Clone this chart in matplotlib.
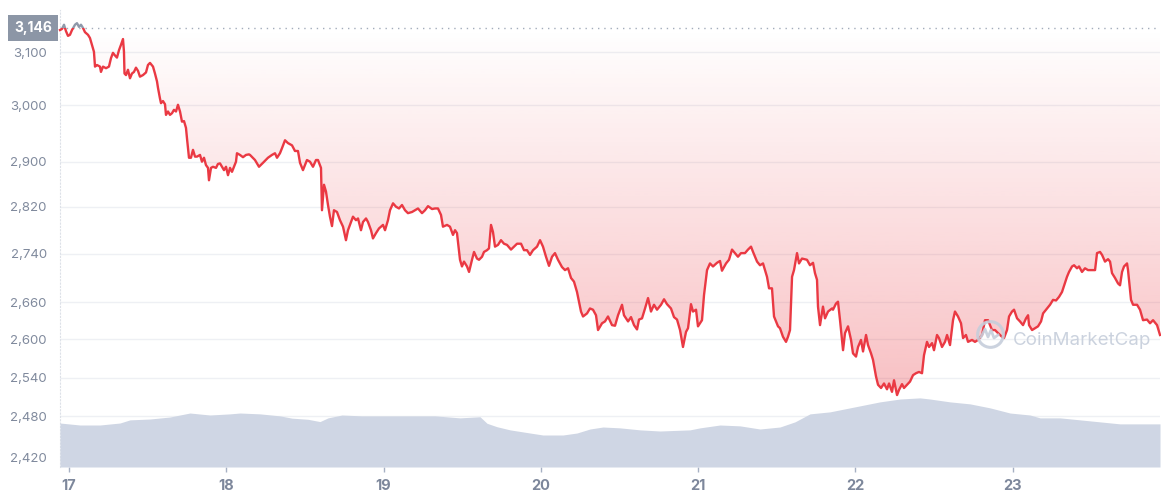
import numpy as np
import matplotlib
matplotlib.use("Agg")
import matplotlib.pyplot as plt
from matplotlib import transforms
from matplotlib.patches import Rectangle
from matplotlib.path import Path

plt.rcParams['font.family'] = ['Inter', 'DejaVu Sans']

# ---------------- data ----------------
# hours since Nov 17 00:00
hours = [-1.37, -1.07, -0.76, -0.46, -0.15, 0.15, 0.46, 0.92, 1.22, 1.53, 1.83, 2.14, 2.44,
         2.90, 3.20, 3.51, 3.81, 3.97, 4.27, 4.73, 4.88, 5.19, 5.65, 6.10, 6.41, 6.71, 7.02,
         7.32, 7.63, 7.93, 8.24, 8.39, 8.47, 8.70, 9.00, 9.31, 9.61, 9.92, 10.22, 10.53, 10.83,
         11.29, 11.75, 12.05, 12.36, 12.82, 13.12, 13.43, 13.58, 13.88, 14.04, 14.34, 14.65,
         14.80, 15.11, 15.41, 15.72, 16.02, 16.33, 16.63, 16.94, 17.24, 17.55, 17.85, 18.00,
         18.31, 18.61, 18.92, 19.23, 19.53, 19.99, 20.29, 20.60, 20.90, 21.21, 21.36, 21.67,
         21.97, 22.43, 22.73, 23.04, 23.34, 23.65, 23.96, 24.26, 24.57, 24.87, 25.18, 25.48,
         25.63, 26.09, 26.55, 27.01, 27.46, 27.62, 28.38, 28.99, 29.60, 30.36, 30.97, 31.43,
         31.74, 32.19, 32.50, 32.96, 33.41, 34.03, 34.48, 34.94, 35.25, 35.70, 36.31, 36.77,
         37.23, 37.69, 37.99, 38.45, 38.60, 38.91, 39.21, 39.52, 39.82, 40.13, 40.43, 40.89,
         41.35, 41.81, 42.26, 42.57, 43.03, 43.33, 43.79, 44.10, 44.55, 44.86, 45.32, 45.62,
         46.08, 46.38, 46.84, 47.30, 47.91, 48.22, 48.67, 48.98, 49.44, 49.89, 50.35, 50.81,
         51.27, 51.72, 52.34, 52.79, 53.25, 53.86, 54.32, 54.78, 55.39, 55.84, 56.30, 56.76,
         57.06, 57.68, 58.13, 58.59, 58.90, 59.20, 59.66, 59.96, 60.27, 60.73, 61.04, 61.49,
         61.80, 62.25, 62.56, 63.02, 63.32, 63.78, 64.08, 64.39, 64.69, 65.00, 65.46, 65.91,
         66.37, 66.83, 67.44, 67.90, 68.36, 68.97, 69.42, 69.88, 70.34, 70.80, 71.41, 71.87,
         72.32, 72.78, 73.24, 73.70, 74.15, 74.61, 75.22, 75.68, 76.14, 76.60, 77.05, 77.51,
         78.12, 78.43, 79.04, 79.49, 79.95, 80.41, 80.72, 81.33, 81.78, 82.24, 82.85, 83.31,
         83.77, 84.38, 84.68, 85.30, 85.75, 86.21, 86.67, 86.97, 87.43, 87.89, 88.35, 88.80,
         89.26, 89.72, 90.33, 90.79, 91.24, 91.85, 92.31, 92.77, 93.23, 93.68, 94.14, 94.45,
         94.90, 95.21, 95.67, 95.97, 96.58, 96.89, 97.35, 97.80, 98.26, 98.87, 99.33, 99.63,
         100.25, 100.70, 101.16, 101.46, 102.07, 102.53, 103.14, 103.60, 104.06, 104.37,
         104.98, 105.43, 105.89, 106.50, 106.81, 107.26, 107.57, 108.18, 108.48, 108.94,
         109.40, 109.70, 110.01, 110.32, 110.62, 111.08, 111.38, 111.84, 112.60, 113.06,
         113.52, 113.82, 114.13, 114.28, 114.59, 115.04, 115.35, 115.81, 116.42, 116.57,
         117.03, 117.33, 117.64, 118.10, 118.40, 118.86, 119.32, 119.62, 120.08, 120.39,
         120.84, 121.15, 121.61, 121.91, 122.37, 122.67, 123.13, 123.44, 123.90, 124.35,
         124.81, 125.12, 125.57, 125.88, 126.34, 126.64, 127.10, 127.40, 127.86, 128.32,
         128.78, 129.23, 129.69, 130.15, 130.45, 130.91, 131.22, 131.68, 131.98, 132.44,
         132.74, 133.20, 133.66, 133.97, 134.42, 134.88, 135.18, 135.64, 136.10, 136.41,
         136.86, 137.17, 137.78, 138.23, 138.69, 139.31, 139.76, 140.22, 140.83, 141.29,
         141.75, 142.36, 142.66, 143.12, 143.43, 143.88, 144.19, 144.65, 145.10, 145.56,
         146.02, 146.33, 146.48, 146.94, 147.39, 147.85, 148.31, 148.62, 149.23, 149.68,
         150.14, 150.60, 151.06, 151.51, 151.82, 152.27, 152.58, 153.04, 153.35, 153.80,
         154.11, 154.56, 155.02, 155.48, 156.09, 156.55, 156.85, 157.31, 157.62, 158.07,
         158.53, 158.84, 159.14, 159.60, 160.06, 160.36, 160.67, 160.97, 161.43, 161.58,
         162.04, 162.35, 162.96, 163.41, 163.87, 164.48, 164.94, 165.40, 166.01, 166.31,
         166.46]

price = [3142, 3144, 3152, 3140, 3131, 3133, 3142, 3152, 3155, 3148, 3152, 3146, 3138,
         3133, 3127, 3114, 3101, 3073, 3076, 3073, 3063, 3073, 3070, 3073, 3089, 3099, 3094,
         3090, 3104, 3114, 3125, 3101, 3060, 3057, 3067, 3051, 3060, 3063, 3071, 3065, 3054,
         3057, 3062, 3076, 3080, 3073, 3060, 3045, 3033, 3013, 3004, 3008, 3002,
         2983, 2989, 2983, 2986, 2992, 2989, 3001, 2989, 2971, 2972, 2960, 2942,
         2907, 2907, 2921, 2909, 2909, 2912, 2900, 2907, 2894, 2889, 2867, 2889,
         2891, 2889, 2896, 2897, 2891, 2885, 2891, 2876, 2889, 2882, 2891, 2900,
         2915, 2912, 2908, 2912, 2913, 2912, 2903, 2891, 2898, 2907, 2912, 2915,
         2907, 2915, 2924, 2938, 2933, 2929, 2919, 2919, 2898, 2885, 2903, 2900,
         2891, 2903, 2903, 2889, 2814, 2859, 2847, 2823, 2803, 2787, 2814, 2811,
         2797, 2786, 2763, 2780, 2794, 2803, 2797, 2800, 2780, 2794, 2800, 2794,
         2780, 2766, 2775, 2783, 2789, 2780, 2797, 2814, 2826, 2820, 2817, 2823,
         2814, 2809, 2811, 2814, 2817, 2809, 2814, 2821, 2816, 2817, 2817, 2806,
         2786, 2789, 2786, 2772, 2780, 2775, 2730, 2719, 2727, 2719, 2710, 2730,
         2743, 2732, 2730, 2735, 2743, 2746, 2749, 2789, 2777, 2752, 2755, 2763,
         2757, 2755, 2747, 2752, 2757, 2757, 2746, 2746, 2738, 2746, 2752, 2763,
         2752, 2735, 2720, 2735, 2741, 2730, 2718, 2713, 2716, 2700, 2694, 2677,
         2645, 2637, 2642, 2650, 2648, 2639, 2615, 2626, 2629, 2637, 2623, 2622,
         2639, 2656, 2639, 2629, 2636, 2623, 2616, 2632, 2634, 2650, 2667, 2645,
         2656, 2648, 2656, 2665, 2657, 2650, 2636, 2632, 2615, 2588, 2612, 2618,
         2657, 2645, 2648, 2621, 2631, 2672, 2713, 2724, 2719, 2725, 2728, 2712,
         2724, 2730, 2747, 2743, 2735, 2741, 2741, 2747, 2752, 2743,
         2727, 2721, 2724, 2702, 2683, 2683, 2637, 2621, 2618, 2604,
         2596, 2604, 2615, 2702, 2713, 2741, 2724, 2732, 2730, 2721,
         2725, 2708, 2697, 2653, 2623, 2653, 2634, 2645, 2650, 2648,
         2658, 2661, 2631, 2583, 2610, 2621, 2599, 2578, 2573, 2588,
         2599, 2581, 2607, 2591, 2578, 2568, 2542, 2529, 2524, 2531,
         2522, 2531, 2518, 2536, 2513, 2521, 2530, 2524, 2529, 2534,
         2544, 2547, 2549, 2547, 2575, 2596, 2588, 2594, 2583, 2607,
         2602, 2588, 2596, 2607, 2591, 2631, 2645, 2637, 2626, 2602,
         2607, 2596, 2599, 2596, 2599, 2607, 2631, 2631, 2615, 2615,
         2610, 2604, 2602, 2615, 2637, 2645, 2648, 2634, 2629, 2623,
         2634, 2639, 2623, 2615, 2618, 2621, 2629, 2642, 2650, 2656,
         2664, 2663, 2669, 2677, 2687, 2702, 2710, 2719, 2721, 2716,
         2719, 2710, 2716, 2713, 2713, 2713, 2741, 2743, 2738, 2727,
         2731, 2727, 2708, 2700, 2691, 2688, 2710, 2719, 2724, 2713,
         2664, 2656, 2656, 2648, 2631, 2632, 2626, 2631, 2623, 2612,
         2607]

vol_hours = [-1.37, 1.68, 4.73, 7.78, 9.31, 12.36, 15.41, 18.46, 21.51, 24.57, 26.09, 29.14,
             32.19, 34.03, 36.47, 38.30, 39.52, 41.65, 44.71, 50.50, 55.84, 59.66, 62.71,
             63.78, 65.30, 67.29, 70.34, 72.32, 75.37, 77.51, 79.49, 81.48, 84.07, 87.12,
             90.17, 94.75, 96.28, 99.33, 102.38, 105.43, 108.48, 110.77, 113.06, 116.11,
             119.16, 122.22, 123.74, 126.79, 129.84, 131.37, 134.42, 137.47, 140.53, 143.58,
             146.63, 148.16, 151.21, 154.26, 157.31, 160.36, 166.46]
# 24h volume, billions USD
volume = [15.4, 14.7, 14.7, 15.4, 16.5, 16.8, 17.5, 18.9, 18.2, 18.6, 18.9, 18.6,
          17.9, 17.1, 16.7, 15.9, 17.2, 18.2, 17.9, 17.9, 17.9, 17.2, 17.6,
          15.3, 14.1, 13.0, 11.9, 11.2, 11.2, 11.9, 13.3, 14.0, 13.7, 13.0,
          12.6, 13.0, 13.7, 14.7, 14.4, 13.3, 14.0, 15.8, 18.6, 19.3,
          20.7, 22.1, 22.8, 23.8, 24.2, 23.8, 22.8, 22.1, 20.7, 18.9,
          18.2, 17.2, 17.2, 16.5, 15.8, 15.1, 15.1]

baseline = 3146
day_ticks = [0, 24, 48, 72, 96, 120, 144]
day_labels = ['17', '18', '19', '20', '21', '22', '23']
y_ticks = [2420, 2480, 2540, 2600, 2660, 2740, 2820, 2900, 3000, 3100]
y_labels = ['2,420', '2,480', '2,540', '2,600', '2,660', '2,740', '2,820', '2,900', '3,000', '3,100']

# ---------------- price axis scale (uneven spacing of the original axis) ----------------
_tv = np.array(y_ticks, float)
_tp = -np.array([457.7, 416.3, 377.7, 339.3, 302.3, 253.7, 206.7, 161.7, 105.3, 52.3])
_s0 = (_tp[1] - _tp[0]) / (_tv[1] - _tv[0])
_s1 = (_tp[-1] - _tp[-2]) / (_tv[-1] - _tv[-2])


def fwd(v):
    v = np.asarray(v, float)
    out = np.interp(v, _tv, _tp)
    out = np.where(v < _tv[0], _tp[0] + (v - _tv[0]) * _s0, out)
    out = np.where(v > _tv[-1], _tp[-1] + (v - _tv[-1]) * _s1, out)
    return out


def inv(u):
    u = np.asarray(u, float)
    out = np.interp(u, _tp, _tv)
    out = np.where(u < _tp[0], _tv[0] + (u - _tp[0]) / _s0, out)
    out = np.where(u > _tp[-1], _tv[-1] + (u - _tp[-1]) / _s1, out)
    return out


# ---------------- figure ----------------
W, H = 1161, 500
fig = plt.figure(figsize=(W / 100, H / 100), dpi=100)
rect = [60 / W, 33 / H, 1100 / W, 457 / H]
ax = fig.add_axes(rect)
axv = fig.add_axes(rect, sharex=ax)
ax.set_zorder(0)
axv.set_zorder(1)
axv.patch.set_visible(False)

# volume (drawn above the grid)
axv.fill_between(vol_hours, volume, 0, color='#cfd6e4', lw=0)
axv.set_ylim(0, 160)
axv.axis('off')

hrs = np.array(hours)
pr = np.array(price, float)
ax.set_yscale('function', functions=(fwd, inv))

# gradient fill between price and baseline
poly = ax.fill_between(hrs, pr, baseline, where=pr <= baseline, interpolate=True,
                       facecolor='none', edgecolor='none')
n = 400
frac = np.linspace(0, 1, n)
ypx = 467 - frac * 457
alpha = np.clip(0.38 * (ypx - 28) / 439, 0, 1)
img = np.zeros((n, 1, 4))
img[:, 0, 0] = 234 / 255
img[:, 0, 1] = 57 / 255
img[:, 0, 2] = 67 / 255
img[:, 0, 3] = alpha
im = ax.imshow(img, extent=[0, 1, 0, 1], transform=ax.transAxes, aspect='auto',
               origin='lower', zorder=1, interpolation='bilinear')
cpath = Path.make_compound_path(*poly.get_paths())
im.set_clip_path(cpath, ax.transData)

ax.set_xlim(-1.37, 166.46)
ax.set_ylim(float(inv(-467)), float(inv(-10)))

# line: red below baseline, gray above
red_line, = ax.plot(hrs, pr, color='#ea3943', lw=1.7, zorder=4, solid_joinstyle='round')
gray_line, = ax.plot(hrs, pr, color='#8f99aa', lw=1.7, zorder=4, solid_joinstyle='round')
below = Rectangle((-10, 2000), 200, baseline - 2000, transform=ax.transData)
above = Rectangle((-10, baseline), 200, 2000, transform=ax.transData)
red_line.set_clip_path(below)
gray_line.set_clip_path(above)

# baseline dotted line
ax.axhline(baseline, color='#a3acbb', lw=1.0, ls=(0, (1, 3.5)), zorder=3)

# grid
ax.set_yticks(y_ticks)
ax.set_yticklabels(y_labels)
ax.yaxis.grid(True, color='#eef0f4', lw=1.0, zorder=0)
ax.set_axisbelow(True)
ax.set_xticks(day_ticks)
ax.set_xticklabels(day_labels)

for s in ['top', 'right', 'bottom']:
    ax.spines[s].set_visible(False)
ax.spines['left'].set_color('#dde1e8')
ax.spines['left'].set_linestyle((0, (1, 2)))
ax.spines['left'].set_linewidth(0.8)

ax.tick_params(axis='y', length=0, pad=9.5, labelsize=9.5, labelcolor='#808a9d')
ax.tick_params(axis='x', length=3.8, width=1, color='#a6b0c3', pad=5, labelsize=10.5,
               labelcolor='#7d879b')
for t in ax.get_xticklabels():
    t.set_fontweight('bold')

# current/opening price tag
bt = transforms.blended_transform_factory(ax.transAxes, ax.transData)
ax.text(-8 / 1100, baseline, '3,146', transform=bt, ha='right', va='center',
        color='white', fontsize=10, fontweight='bold', zorder=6,
        bbox=dict(boxstyle='square,pad=0.42', fc='#8c96a6', ec='none'))

# watermark
wm = '#c6cedb'
ax.text((1013 - 60) / 1100, (467 - 345) / 457, 'CoinMarketCap', transform=ax.transAxes,
        ha='left', va='baseline', fontsize=13.5, color=wm, alpha=0.9, zorder=5)
ax.plot([(990 - 60) / 1100], [(467 - 334) / 457], marker='o', ms=18.5, mfc='none', mec=wm,
        mew=2.2, transform=ax.transAxes, zorder=5, alpha=0.9)
wx = np.array([-9, -5, -2, 1, 4, 8])
wy = np.array([-3, 5, -3, 4, -4, -1])
ax.plot((990 - 60 + wx) / 1100, (467 - 334 + wy) / 457, color=wm, lw=2.0,
        transform=ax.transAxes, zorder=5, alpha=0.9, solid_joinstyle='round')

fig.savefig('out.png', dpi=100)
